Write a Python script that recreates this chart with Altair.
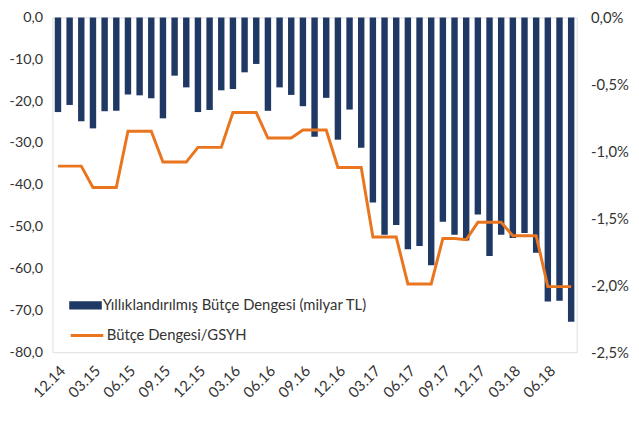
import altair as alt
import pandas as pd

months = []
for y in range(14, 19):
    for m in range(1, 13):
        if (y == 14 and m < 12) or (y == 18 and m > 8):
            continue
        months.append(f"{m:02d}.{y}")

balance_bn = [
    -22.6, -20.9, -24.8, -26.5, -22.4, -22.3, -18.4, -18.6, -19.3, -24.1,
    -13.9, -16.7, -22.6, -22.1, -17.4, -17.1, -13.1, -11.1, -22.3, -16.7,
    -18.5, -21.2, -28.5, -19.2, -29.2, -22.0, -31.1, -44.2, -51.9, -49.6,
    -55.4, -54.6, -59.2, -48.8, -51.9, -53.3, -47.1, -57.0, -51.9, -52.7,
    -51.5, -56.2, -67.9, -67.7, -72.7,
]

balance_gdp = [
    -1.11, -1.11, -1.11, -1.27, -1.27, -1.27, -0.85, -0.85, -0.85, -1.08,
    -1.08, -1.08, -0.97, -0.97, -0.97, -0.71, -0.71, -0.71, -0.90, -0.90,
    -0.90, -0.84, -0.84, -0.84, -1.12, -1.12, -1.12, -1.64, -1.64, -1.64,
    -1.99, -1.99, -1.99, -1.65, -1.65, -1.66, -1.53, -1.53, -1.53, -1.63,
    -1.63, -1.63, -2.01, -2.01, -2.01,
]

tick_labels = months[::3]

bar_name = "Yıllıklandırılmış Bütçe Dengesi (milyar TL)"
line_name = "Bütçe Dengesi/GSYH"

df = pd.DataFrame({
    "month": months,
    "bal": balance_bn,
    "gdp": [v / 100 for v in balance_gdp],
    "bar_s": bar_name,
    "line_s": line_name,
})

FONT = "Lato"
FS = 15
TXT = "#333333"
NAVY = "#1F3864"
ORANGE = "#E9761F"

x = alt.X("month:N", sort=months, title=None,
          scale=alt.Scale(paddingInner=0.45, paddingOuter=0.2),
          axis=alt.Axis(values=tick_labels, labelAngle=-45, ticks=False,
                        domain=False, labelFontSize=FS, labelPadding=11,
                        labelColor=TXT, labelFont=FONT))

bars = alt.Chart(df).mark_bar(color=NAVY).encode(
    x=x,
    y=alt.Y("bal:Q", title=None,
            scale=alt.Scale(domain=[-80, 0], nice=False),
            axis=alt.Axis(values=list(range(-80, 1, 10)), grid=False,
                          ticks=False, domain=False, labelFontSize=14.5,
                          labelPadding=10, labelColor=TXT, labelFont=FONT,
                          labelExpr="replace(replace(format(datum.value, '.1f'), '.', ','), '\u2212', '-')")),
    fill=alt.Fill("bar_s:N", title=None,
                  scale=alt.Scale(range=[NAVY]),
                  legend=alt.Legend(orient="none", legendX=17, legendY=275,
                                    symbolType="M-1,-0.25H1V0.25H-1Z",
                                    symbolSize=1089, symbolStrokeWidth=0,
                                    labelFontSize=15, labelFont=FONT,
                                    labelColor=TXT, labelOffset=1, labelLimit=0)),
)

line = alt.Chart(df).mark_line(color=ORANGE, strokeWidth=3).encode(
    x=x,
    y=alt.Y("gdp:Q", title=None,
            scale=alt.Scale(domain=[-0.025, 0], nice=False),
            axis=alt.Axis(orient="right", values=[-0.025, -0.02, -0.015, -0.01, -0.005, 0],
                          grid=False, ticks=False, domain=False, labelFontSize=FS,
                          labelPadding=14, labelColor=TXT, labelFont=FONT,
                          labelExpr="replace(replace(format(datum.value, '.1%'), '.', ','), '\u2212', '-')")),
    stroke=alt.Stroke("line_s:N", title=None,
                      scale=alt.Scale(range=[ORANGE]),
                      legend=alt.Legend(orient="none", legendX=17, legendY=304,
                                        symbolType="stroke", symbolSize=1089,
                                        symbolStrokeWidth=3,
                                        labelFontSize=15, labelFont=FONT,
                                        labelColor=TXT, labelOffset=2, labelLimit=0)),
)

chart = alt.layer(bars, line).resolve_scale(
    y="independent", fill="independent", stroke="independent"
).properties(
    width=531, height=339,
    autosize=alt.AutoSizeParams(type="none"),
    padding={"left": 45, "top": 7, "right": 55, "bottom": 64},
).configure_view(
    stroke="#BFBFBF", strokeWidth=1
).configure(background="white")

chart.save("out.html", embed_options={"renderer": "svg", "actions": False})
